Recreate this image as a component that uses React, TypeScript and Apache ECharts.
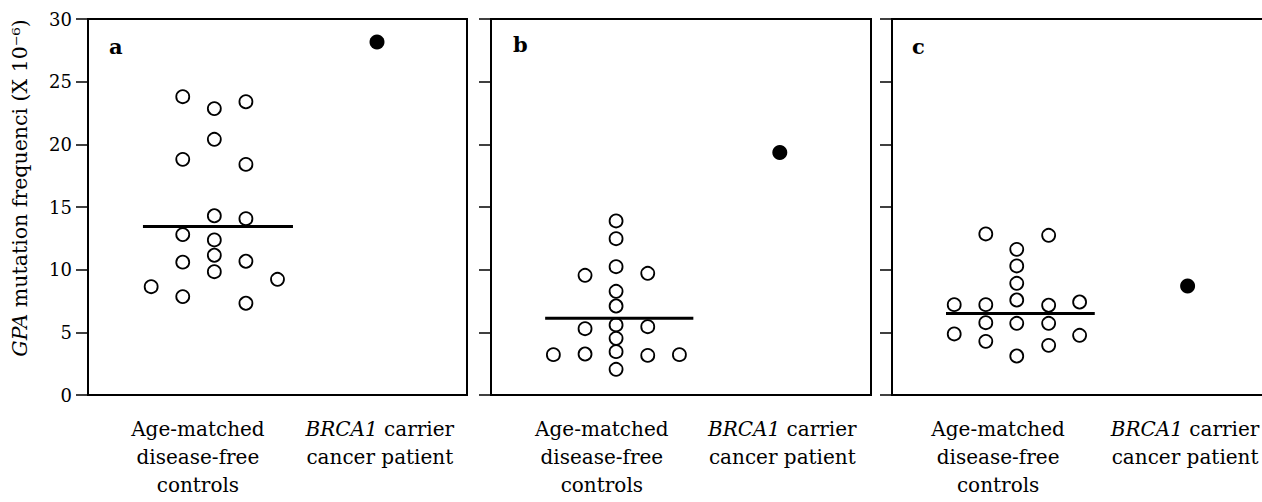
import React, { useEffect, useRef } from "react";
import * as echarts from "echarts";

// Panel letters
const panelLetters = ["a", "b", "c"];

// Control x positions (column units) and values (×10^-6)
const aCtrlX = [2, 3, 3, 3, 3, 3, 4, 4, 4, 4, 4, 4, 5, 5, 5, 5, 5, 6];
const aCtrlY = [8.64, 23.8, 18.8, 12.8, 10.6, 7.85, 22.85, 20.4, 14.3, 12.37, 11.15, 9.84, 23.4, 18.4, 14.07, 10.67, 7.32, 9.23];
const bCtrlX = [1.97, 2.97, 2.97, 2.97, 3.95, 3.95, 3.95, 3.95, 3.95, 3.95, 3.95, 3.95, 3.95, 4.95, 4.95, 4.95, 5.95];
const bCtrlY = [3.22, 9.55, 5.29, 3.27, 13.89, 12.47, 10.24, 8.27, 7.1, 5.59, 4.52, 3.46, 2.05, 9.71, 5.45, 3.16, 3.22];
const cCtrlX = [1.97, 1.97, 2.97, 2.97, 2.97, 2.97, 3.95, 3.95, 3.95, 3.95, 3.95, 3.95, 4.96, 4.96, 4.96, 4.96, 5.94, 5.94];
const cCtrlY = [7.21, 4.87, 12.85, 7.21, 5.77, 4.28, 11.62, 10.3, 8.91, 7.58, 5.72, 3.11, 12.74, 7.16, 5.72, 3.96, 7.42, 4.76];

// BRCA1 carrier patient: [x, value]
const patientX = [9.15, 9.12, 9.36];
const patientY = [28.17, 19.34, 8.7];

// Median/mean lines: start x, end x, value
const meanStart = [1.74, 1.71, 1.71];
const meanEnd = [6.49, 6.39, 6.42];
const meanVal = [13.45, 6.12, 6.5];

// Category label positions (x units) per panel
const ctrlLabelX = [3.48, 3.5, 3.36];
const patientLabelX = [9.24, 9.2, 9.28];
const categoryLabels = ["Age-matched\ndisease-free\ncontrols", "{i|BRCA1} carrier\ncancer patient"];

const yTicks = [0, 5, 10, 15, 20, 25, 30];

const gridLefts = [88, 491, 892];
const gridWidths = [379, 380, 379];

const FONT = "DejaVu Serif";

export default function App() {
  const ref = useRef<HTMLDivElement>(null);
  useEffect(() => {
    document.body.style.margin = "0";
    const chart = echarts.init(ref.current!, null, { renderer: "svg", width: 1262, height: 502 });
    const ctrlX = [aCtrlX, bCtrlX, cCtrlX];
    const ctrlY = [aCtrlY, bCtrlY, cCtrlY];

    const grids = gridLefts.map((l, i) => ({
      left: l,
      top: 19,
      width: gridWidths[i],
      height: 376,
      show: true,
      borderColor: "#000",
      borderWidth: 2,
      backgroundColor: "transparent",
      containLabel: false,
      outerBoundsMode: "none",
    }));

    const xAxes: any[] = gridLefts.map((_, i) => ({
      type: "value",
      gridIndex: i,
      min: 0,
      max: 12,
      splitLine: { show: false },
      axisLine: { show: true, lineStyle: { color: "#000", width: 2 } },
      axisTick: { show: false },
      axisLabel: {
        show: true,
        customValues: [ctrlLabelX[i], patientLabelX[i]],
        margin: 20,
        color: "#000",
        fontFamily: FONT,
        fontSize: 20,
        lineHeight: 28,
        align: "center",
        hideOverlap: false,
        formatter: (v: number) =>
          Math.abs(v - ctrlLabelX[i]) < Math.abs(v - patientLabelX[i]) ? categoryLabels[0] : categoryLabels[1],
        rich: {
          i: { fontStyle: "italic", fontFamily: FONT, fontSize: 20, lineHeight: 28, color: "#000" },
        },
      },
    }));

    const yAxes = gridLefts.map((_, i) => ({
      type: "value",
      gridIndex: i,
      min: 0,
      max: 30,
      interval: 5,
      splitLine: { show: false },
      axisLine: { show: true, lineStyle: { color: "#000", width: 2 } },
      axisTick: { show: true, inside: false, length: 12, lineStyle: { color: "#000", width: 1.5 } },
      axisLabel: {
        show: i === 0,
        color: "#000",
        fontFamily: FONT,
        fontSize: 18,
        margin: 16,
        customValues: yTicks,
      },
      name: i === 0 ? "{i|GPA} mutation frequenci (X 10⁻⁶)" : "",
      nameLocation: "middle",
      nameGap: 58,
      nameTextStyle: {
        color: "#000",
        fontFamily: FONT,
        fontSize: 20.5,
        padding: [0, 0, 0, 38],
        rich: { i: { fontStyle: "italic", fontFamily: FONT, fontSize: 20.5, color: "#000" } },
      },
    }));

    const series: any[] = [];
    gridLefts.forEach((_, i) => {
      series.push({
        type: "scatter",
        xAxisIndex: i,
        yAxisIndex: i,
        data: ctrlX[i].map((x, k) => [x, ctrlY[i][k]]),
        symbol: "circle",
        symbolSize: 13,
        itemStyle: { color: "#fff", borderColor: "#000", borderWidth: 1.8, opacity: 1 },
        z: 2,
      });
      series.push({
        type: "line",
        xAxisIndex: i,
        yAxisIndex: i,
        data: [
          [meanStart[i], meanVal[i]],
          [meanEnd[i], meanVal[i]],
        ],
        symbol: "none",
        lineStyle: { color: "#000", width: 3 },
        z: 3,
      });
      series.push({
        type: "scatter",
        xAxisIndex: i,
        yAxisIndex: i,
        data: [[patientX[i], patientY[i]]],
        symbol: "circle",
        symbolSize: 15,
        itemStyle: { color: "#000", opacity: 1 },
        z: 2,
      });
    });

    const letterPos = [
      [109, 36],
      [513, 34],
      [912, 36],
    ];

    chart.setOption({
      animation: false,
      backgroundColor: "#fff",
      title: panelLetters.map((t, i) => ({
        text: t,
        left: letterPos[i][0],
        top: letterPos[i][1],
        padding: 0,
        textStyle: { fontFamily: FONT, fontWeight: "bold", fontSize: 21, color: "#000" },
      })),
      grid: grids,
      xAxis: xAxes,
      yAxis: yAxes,
      series,
    });
    return () => chart.dispose();
  }, []);
  return <div ref={ref} style={{ width: 1262, height: 502 }} />;
}
